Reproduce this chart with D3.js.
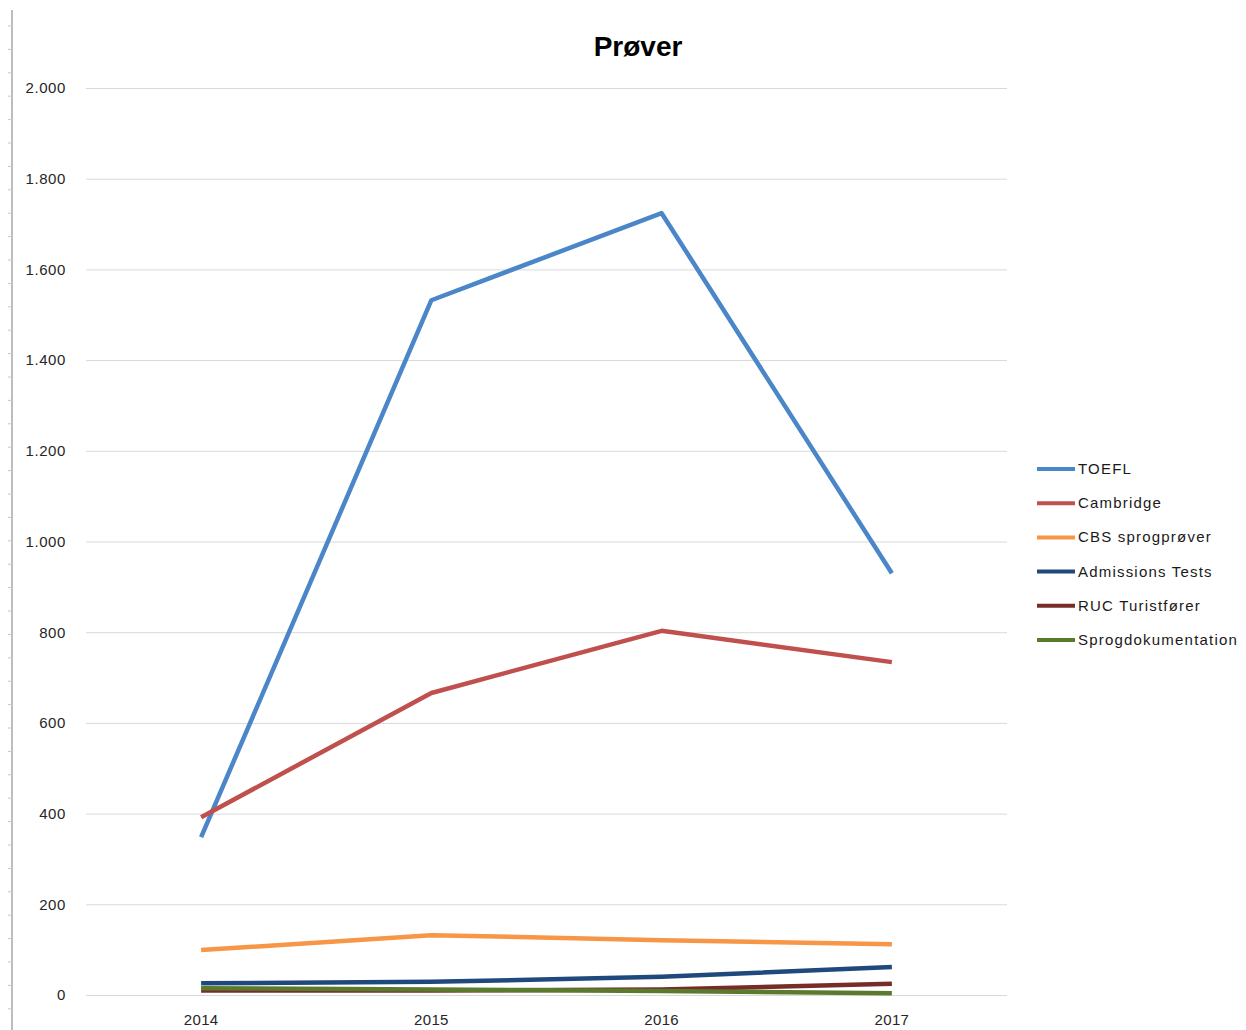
<!DOCTYPE html>
<html>
<head>
<meta charset="utf-8">
<script src="https://cdn.jsdelivr.net/npm/d3@7"></script>
<style>
body { margin:0; background:#fff; }
text { font-family: "Liberation Sans", Arial, sans-serif; }
</style>
</head>
<body>
<svg id="chart"></svg>
<script>
var years = ["2014","2015","2016","2017"];
var seriesNames = ["TOEFL","Cambridge","CBS sprogprøver","Admissions Tests","RUC Turistfører","Sprogdokumentation"];
var toefl = [348, 1532, 1724, 930];
var cambridge = [392, 666, 803, 734];
var cbs = [99, 132, 121, 112];
var admissions = [26, 29, 40, 62];
var ruc = [10, 10, 12, 25];
var sprogdok = [15, 12, 9, 4];
var yTicks = [0,200,400,600,800,1000,1200,1400,1600,1800,2000];
var colors = ["#4a86c8","#c0504d","#f79646","#1f497d","#772c2a","#5a7a2e"];

var seriesValues = [toefl, cambridge, cbs, admissions, ruc, sprogdok];

var screen = { width:1246, height:1030 };
var margins = { top:88, left:86, right:239, bottom:35 };

var svg = d3.select("#chart")
            .attr("width", screen.width)
            .attr("height", screen.height);

var xScale = d3.scaleBand()
            .domain(years)
            .range([margins.left, screen.width - margins.right]);

var yScale = d3.scaleLinear()
            .domain([0,2000])
            .range([995, margins.top]);

// ruler on the far left
svg.append("line")
   .attr("x1",12).attr("x2",12)
   .attr("y1",10).attr("y2",screen.height)
   .attr("stroke","#bdbdbd").attr("stroke-width",2);
var rulerTicks = d3.range(26, screen.height, 23.4);
svg.selectAll(".ruler")
   .data(rulerTicks)
   .enter()
   .append("line")
   .attr("x1",8).attr("x2",12)
   .attr("y1",function(d){ return d; })
   .attr("y2",function(d){ return d; })
   .attr("stroke","#c8c8c8");

// gridlines
var yAxis = d3.axisLeft(yScale)
              .tickValues(yTicks)
              .tickSize(-(xScale.range()[1]-xScale.range()[0]))
              .tickPadding(20)
              .tickFormat(function(d){ return d3.format(",")(d).replace(/,/g,"."); });

var gy = svg.append("g")
   .attr("transform","translate("+margins.left+",0)")
   .call(yAxis);
gy.select(".domain").remove();
gy.selectAll(".tick line").attr("stroke","#d9d9d9");
gy.selectAll(".tick text").attr("font-size","15px").attr("letter-spacing","0.6px").attr("fill","#262626");

var xAxis = d3.axisBottom(xScale).tickSize(0).tickPadding(19);
var gx = svg.append("g")
   .attr("transform","translate(0,995)")
   .call(xAxis);
gx.select(".domain").remove();
gx.selectAll(".tick text").attr("font-size","15px").attr("letter-spacing","0.4px").attr("fill","#262626");

// lines
var line = d3.line()
   .x(function(d,i){ return xScale(years[i]) + xScale.bandwidth()/2; })
   .y(function(d){ return yScale(d); });

svg.selectAll(".series")
   .data(seriesValues)
   .enter()
   .append("path")
   .attr("class","series")
   .attr("d", function(d){ return line(d); })
   .attr("fill","none")
   .attr("stroke", function(d,i){ return colors[i]; })
   .attr("stroke-width",4.5)
   .attr("stroke-linejoin","round");

// legend
var legend = svg.append("g")
   .selectAll("g")
   .data(seriesNames)
   .enter()
   .append("g")
   .attr("transform", function(d,i){ return "translate(1037,"+(469 + i*34.2)+")"; });
legend.append("line")
   .attr("x1",0).attr("x2",38)
   .attr("stroke", function(d,i){ return colors[i]; })
   .attr("stroke-width",4);
legend.append("text")
   .attr("x",41).attr("y",5)
   .attr("font-size","15px")
   .attr("letter-spacing","1.2px")
   .attr("fill","#1a1a1a")
   .text(function(d){ return d; });

// title
svg.append("text")
   .attr("x",638).attr("y",56)
   .attr("text-anchor","middle")
   .attr("font-size","28px")
   .attr("font-weight","bold")
   .attr("fill","#000")
   .text("Prøver");
</script>
</body>
</html>
